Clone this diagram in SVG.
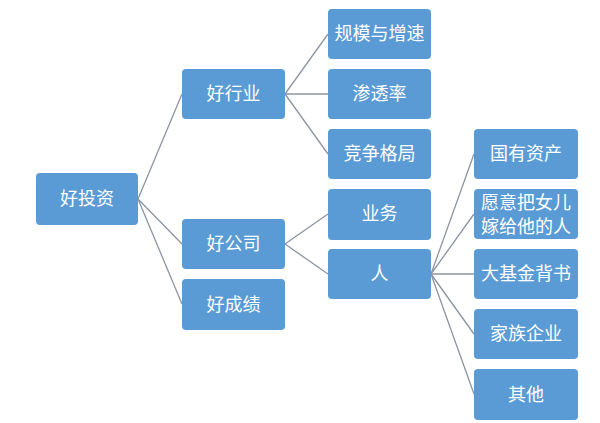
<svg xmlns="http://www.w3.org/2000/svg" width="600" height="423" viewBox="0 0 600 423">
<style>
.box{fill:#5b9bd5;}
.t{fill:#ffffff;font-family:"Liberation Sans","Noto Sans CJK SC",sans-serif;font-size:18px;text-anchor:middle;dominant-baseline:central;}
.c{stroke:#8c95a0;stroke-width:1.3;fill:none;}
</style>
<rect width="600" height="423" fill="#ffffff"/>
<g id="connectors">
<path class="c" d="M138,199 L182,94 M138,199 L182,244 M138,199 L182,304"/>
<path class="c" d="M285,94 L328,34 M285,94 L328,94 M285,94 L328,154"/>
<path class="c" d="M285,244 L328,214 M285,244 L328,274"/>
<path class="c" d="M431,274 L474,154 M431,274 L474,214 M431,274 L474,274 M431,274 L474,334 M431,274 L474,394"/>
</g>
<g id="n-haotouzi"><rect class="box" x="36" y="173" width="102" height="52" rx="4"/><text class="t" x="87" y="199">好投资</text></g>
<g id="n-haohangye"><rect class="box" x="182" y="69" width="103" height="50" rx="4"/><text class="t" x="233.5" y="94">好行业</text></g>
<g id="n-haogongsi"><rect class="box" x="182" y="219" width="103" height="50" rx="4"/><text class="t" x="233.5" y="244">好公司</text></g>
<g id="n-haochengji"><rect class="box" x="182" y="279" width="103" height="51" rx="4"/><text class="t" x="233.5" y="304.5">好成绩</text></g>
<g id="n-guimo"><rect class="box" x="328" y="9" width="103" height="50" rx="4"/><text class="t" x="379.5" y="34">规模与增速</text></g>
<g id="n-shentou"><rect class="box" x="328" y="69" width="103" height="50" rx="4"/><text class="t" x="379.5" y="94">渗透率</text></g>
<g id="n-jingzheng"><rect class="box" x="328" y="129" width="103" height="50" rx="4"/><text class="t" x="379.5" y="154">竞争格局</text></g>
<g id="n-yewu"><rect class="box" x="328" y="189" width="103" height="51" rx="4"/><text class="t" x="379.5" y="214">业务</text></g>
<g id="n-ren"><rect class="box" x="328" y="249" width="103" height="50" rx="4"/><text class="t" x="379.5" y="274">人</text></g>
<g id="n-guoyou"><rect class="box" x="474" y="129" width="104" height="50" rx="4"/><text class="t" x="526" y="154">国有资产</text></g>
<g id="n-yuanyi"><rect class="box" x="474" y="189" width="104" height="50" rx="4"/><text class="t" x="526" y="202.5">愿意把女儿</text><text class="t" x="526" y="227">嫁给他的人</text></g>
<g id="n-dajijin"><rect class="box" x="474" y="249" width="104" height="50" rx="4"/><text class="t" x="526" y="274">大基金背书</text></g>
<g id="n-jiazu"><rect class="box" x="474" y="309" width="104" height="50" rx="4"/><text class="t" x="526" y="334">家族企业</text></g>
<g id="n-qita"><rect class="box" x="474" y="369" width="104" height="51" rx="4"/><text class="t" x="526" y="394.5">其他</text></g>
</svg>
